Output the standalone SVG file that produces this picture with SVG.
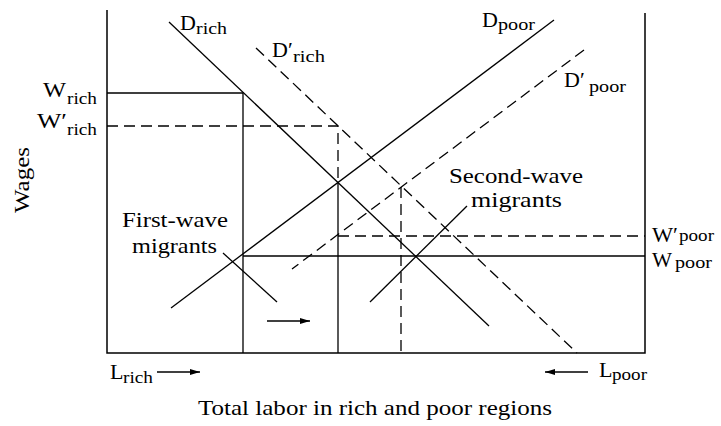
<svg xmlns="http://www.w3.org/2000/svg" width="721" height="426" viewBox="0 0 721 426">
<style>
.ln{stroke:#000;stroke-width:1.3;fill:none}
.fr{stroke:#000;stroke-width:1.5;fill:none}
.ds{stroke:#000;stroke-width:1.3;fill:none;stroke-dasharray:11 6}
text{font-family:"Liberation Serif","Times New Roman",serif;fill:#000}
.m{font-size:22px}
.s{font-size:17px}
</style>
<defs>
<marker id="ah" viewBox="0 0 10 6" refX="10" refY="3" markerWidth="10" markerHeight="6" markerUnits="userSpaceOnUse" orient="auto">
<path d="M0,0 L10,3 L0,6 Z" fill="#000"/>
</marker>
</defs>
<rect width="721" height="426" fill="#fff"/>
<g id="frame">
<path class="fr" d="M107,10 V353 H645 V13"/>
</g>
<g id="connectors">
<path class="ln" d="M107,93 H243 V353"/>
<path class="ds" d="M107,126 H338 V183"/>
<path class="ln" d="M338,183 V353"/>
<path class="ds" d="M401,187 V353"/>
<path class="ln" d="M243,256 H645"/>
<path class="ds" d="M338,236 H645"/>
<line class="ln" x1="169" y1="22" x2="489" y2="326"/>
<line class="ds" x1="256" y1="48" x2="577" y2="353"/>
<line class="ln" x1="554" y1="20" x2="171" y2="308"/>
<line class="ds" x1="584" y1="50" x2="292" y2="269"/>
<line class="ln" x1="223" y1="253" x2="277" y2="302"/>
<line class="ln" x1="370" y1="302" x2="467" y2="206"/>
<line class="ln" x1="267" y1="321" x2="310" y2="321" marker-end="url(#ah)"/>
<line class="ln" x1="157" y1="372" x2="200" y2="372" marker-end="url(#ah)"/>
<line class="ln" x1="588" y1="372" x2="545" y2="372" marker-end="url(#ah)"/>
</g>
<g id="D_rich"><text class="m" x="180" y="30">D</text><text class="s" x="196" y="34" textLength="31" lengthAdjust="spacingAndGlyphs">rich</text></g>
<g id="D_rich_prime"><text class="m" x="272" y="57">D′</text><text class="s" x="293" y="62" textLength="32" lengthAdjust="spacingAndGlyphs">rich</text></g>
<g id="D_poor"><text class="m" x="482" y="27">D</text><text class="s" x="498" y="30" textLength="37" lengthAdjust="spacingAndGlyphs">poor</text></g>
<g id="D_poor_prime"><text class="m" x="564" y="87">D′</text><text class="s" x="589" y="92" textLength="37" lengthAdjust="spacingAndGlyphs">poor</text></g>
<g id="W_rich"><text class="m" x="43" y="97" textLength="23" lengthAdjust="spacingAndGlyphs">W</text><text class="s" x="67" y="104" textLength="30" lengthAdjust="spacingAndGlyphs">rich</text></g>
<g id="W_rich_prime"><text class="m" x="37" y="128" textLength="30" lengthAdjust="spacingAndGlyphs">W′</text><text class="s" x="67" y="135" textLength="30" lengthAdjust="spacingAndGlyphs">rich</text></g>
<g id="W_poor_prime"><text class="m" x="652" y="242" textLength="26" lengthAdjust="spacingAndGlyphs">W′</text><text class="s" x="679" y="241" textLength="35" lengthAdjust="spacingAndGlyphs">poor</text></g>
<g id="W_poor"><text class="m" x="652" y="267" textLength="20" lengthAdjust="spacingAndGlyphs">W</text><text class="s" x="675" y="268" textLength="37" lengthAdjust="spacingAndGlyphs">poor</text></g>
<g id="L_rich"><text class="m" x="110" y="379">L</text><text class="s" x="123" y="383" textLength="30" lengthAdjust="spacingAndGlyphs">rich</text></g>
<g id="L_poor"><text class="m" x="599" y="377">L</text><text class="s" x="612" y="380" textLength="35" lengthAdjust="spacingAndGlyphs">poor</text></g>
<g id="first_wave"><text class="m" x="122" y="227" textLength="106" lengthAdjust="spacingAndGlyphs">First-wave</text><text class="m" x="132" y="253" textLength="85" lengthAdjust="spacingAndGlyphs">migrants</text></g>
<g id="second_wave"><text class="m" x="449" y="183" textLength="134" lengthAdjust="spacingAndGlyphs">Second-wave</text><text class="m" x="471" y="207" textLength="91" lengthAdjust="spacingAndGlyphs">migrants</text></g>
<g id="x_axis_title"><text class="m" x="198" y="415" textLength="354" lengthAdjust="spacingAndGlyphs">Total labor in rich and poor regions</text></g>
<g id="y_axis_title"><text class="m" transform="translate(29,213) rotate(-90)" x="0" y="0" textLength="66" lengthAdjust="spacingAndGlyphs">Wages</text></g>
</svg>
